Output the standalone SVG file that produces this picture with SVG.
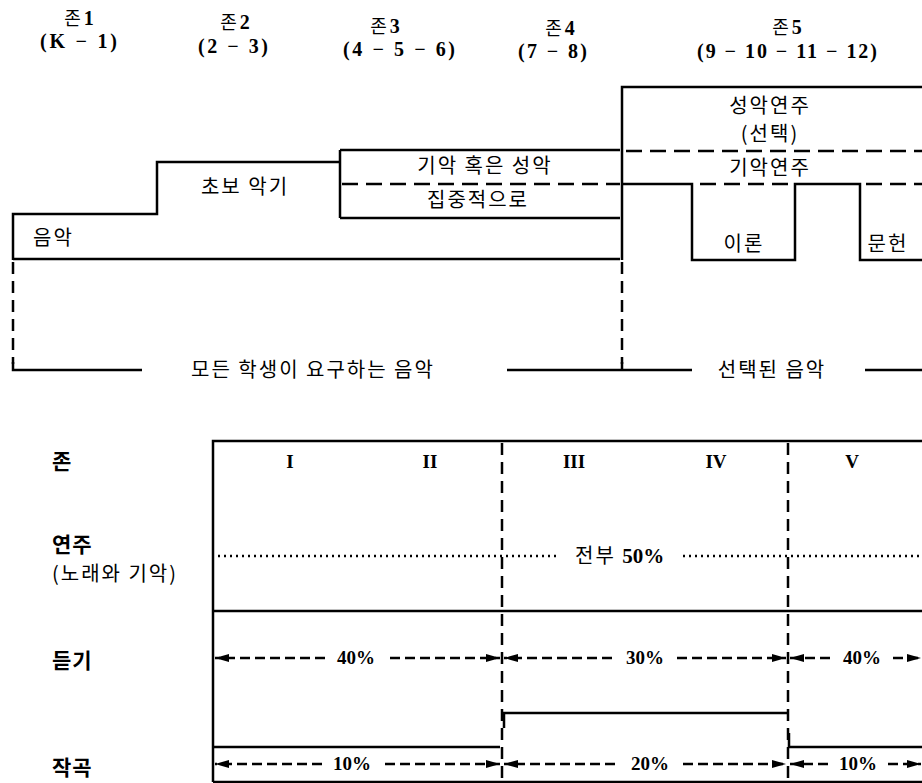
<svg xmlns="http://www.w3.org/2000/svg" width="922" height="783" viewBox="0 0 922 783">
<style>
.s{stroke:#000;stroke-width:2.5;fill:none}
.dh{stroke:#000;stroke-width:2.5;fill:none;stroke-dasharray:16 8}
.dv{stroke:#000;stroke-width:2.5;fill:none;stroke-dasharray:12 7}
.dot{stroke:#000;stroke-width:2.5;fill:none;stroke-dasharray:2 4}
.ar{stroke:#000;stroke-width:2.5;fill:none;stroke-dasharray:10 5}
.k{font-family:"Noto Sans CJK KR","Noto Sans",sans-serif;font-size:20px;letter-spacing:2px;fill:#000}
.kb{font-family:"Noto Sans CJK KR","Noto Sans",sans-serif;font-size:21px;font-weight:bold;letter-spacing:1px;fill:#000}
.z{font-family:"Noto Sans CJK KR","Noto Sans",sans-serif;font-size:18px;fill:#000}
.n{font-family:"Liberation Serif",serif;font-size:20px;font-weight:bold;fill:#000}
.p{font-family:"Liberation Serif",serif;font-size:19px;font-weight:bold;fill:#000}
.c{text-anchor:middle}
</style>
<defs>
<marker id="ah" viewBox="0 0 14 8" refX="14" refY="4" markerWidth="14" markerHeight="8" markerUnits="userSpaceOnUse" orient="auto-start-reverse"><path d="M0 0 L14 4 L0 8 z" fill="#000"/></marker>
</defs>

<g id="zone-headers">
<text class="z c" x="79" y="25">존<tspan class="n" dx="3">1</tspan></text>
<text class="n" x="40" y="48" textLength="77" lengthAdjust="spacing">(K − 1)</text>
<text class="z c" x="235" y="29">존<tspan class="n" dx="3">2</tspan></text>
<text class="n" x="198" y="53" textLength="70" lengthAdjust="spacing">(2 − 3)</text>
<text class="z c" x="385" y="33">존<tspan class="n" dx="3">3</tspan></text>
<text class="n" x="343" y="56" textLength="112" lengthAdjust="spacing">(4 − 5 − 6)</text>
<text class="z c" x="560" y="35">존<tspan class="n" dx="3">4</tspan></text>
<text class="n" x="518" y="58" textLength="69" lengthAdjust="spacing">(7 − 8)</text>
<text class="z c" x="787" y="34">존<tspan class="n" dx="3">5</tspan></text>
<text class="n" x="697" y="58" textLength="180" lengthAdjust="spacing">(9 − 10 − 11 − 12)</text>
</g>

<g id="music-block">
<path class="s" d="M13 260 V214 H157 V162 H340"/>
<path class="s" d="M13 259 H620"/>
<text class="k" x="33" y="245">음악</text>
<text class="k c" x="245" y="194">초보 악기</text>
</g>

<g id="instrument-vocal-block">
<path class="s" d="M340 150 V218 M340 150 H620 M340 218 H620"/>
<path class="dh" d="M342 184 H620"/>
<text class="k c" x="485" y="173">기악 혹은 성악</text>
<text class="k c" x="478" y="207">집중적으로</text>
</g>

<g id="elective-block">
<path class="s" d="M622 260 V87 H922"/>
<path class="dh" d="M626 151 H922"/>
<path class="s" d="M622 184 H692 V260 H795 V184 H860 V260 H922"/>
<path class="dh" d="M700 184 H795 M866 184 H922"/>
<text class="k c" x="770" y="113">성악연주</text>
<text class="k c" x="770" y="141">(선택)</text>
<text class="k c" x="770" y="175">기악연주</text>
<text class="k c" x="744" y="251">이론</text>
<text class="k c" x="888" y="251">문헌</text>
</g>

<g id="required-selected">
<path class="dv" d="M13 262 V364"/>
<path class="s" d="M13 362 V370 H142"/>
<path class="dv" d="M622 262 V364"/>
<path class="s" d="M507 370 H692 M622 362 V370 M865 370 H922"/>
<text class="k c" x="313" y="377">모든 학생이 요구하는 음악</text>
<text class="k c" x="772" y="377">선택된 음악</text>
</g>

<g id="row-labels">
<text class="kb" x="52" y="469">존</text>
<text class="kb" x="52" y="552">연주</text>
<text class="k" x="52" y="581">(노래와 기악)</text>
<text class="kb" x="52" y="668">듣기</text>
<text class="kb" x="52" y="775">작곡</text>
</g>

<g id="table-frame">
<path class="s" d="M213 782 V441 H922"/>
<path class="s" d="M213 782 H922"/>
<path class="s" d="M213 611 H922"/>
<path class="dv" d="M502 443 V783"/>
<path class="dv" d="M788 443 V783"/>
</g>

<g id="zone-numerals">
<text class="p c" x="290" y="468">I</text>
<text class="p c" x="430" y="468">II</text>
<text class="p c" x="574" y="468">III</text>
<text class="p c" x="716" y="468">IV</text>
<text class="p c" x="852" y="468">V</text>
</g>

<g id="performance-row">
<path class="dot" d="M218 556 H558 M683 556 H922"/>
<text class="k" x="575" y="563">전부 <tspan font-family="Liberation Serif, serif" font-weight="bold" font-size="21" letter-spacing="0">50%</tspan></text>
</g>

<g id="listening-row">
<path class="ar" d="M325 658 H215" marker-end="url(#ah)"/>
<path class="ar" d="M390 658 H500" marker-end="url(#ah)"/>
<text class="p c" x="356" y="664">40%</text>
<path class="ar" d="M612 658 H504" marker-end="url(#ah)"/>
<path class="ar" d="M677 658 H786" marker-end="url(#ah)"/>
<text class="p c" x="645" y="664">30%</text>
<path class="ar" d="M830 658 H790" marker-end="url(#ah)"/>
<path class="ar" d="M893 658 H921" marker-end="url(#ah)"/>
<text class="p c" x="862" y="664">40%</text>
</g>

<g id="composition-row">
<path class="s" d="M213 747 H500 M504 728 V713 H787 M789 733 V747 H922"/>
<path class="ar" d="M322 764 H215" marker-end="url(#ah)"/>
<path class="ar" d="M385 764 H500" marker-end="url(#ah)"/>
<text class="p c" x="352" y="770">10%</text>
<path class="ar" d="M615 764 H504" marker-end="url(#ah)"/>
<path class="ar" d="M683 764 H786" marker-end="url(#ah)"/>
<text class="p c" x="650" y="770">20%</text>
<path class="ar" d="M828 764 H790" marker-end="url(#ah)"/>
<path class="ar" d="M888 764 H921" marker-end="url(#ah)"/>
<text class="p c" x="858" y="770">10%</text>
</g>
</svg>
